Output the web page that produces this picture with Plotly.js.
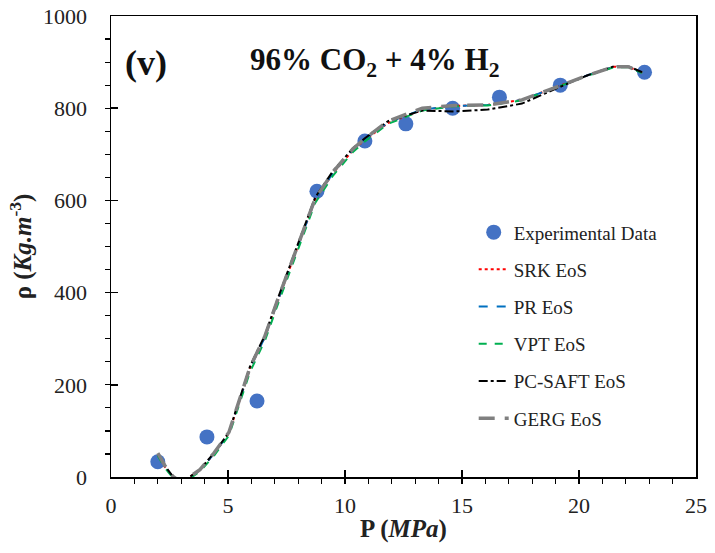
<!DOCTYPE html>
<html><head><meta charset="utf-8">
<script src="https://cdn.plot.ly/plotly-3.0.1.min.js"></script>
<style>body{margin:0;background:#fff}#c{width:715px;height:553px}</style>
</head><body><div id="c"></div>
<script>
// Experimental data
const expP = [2.0, 4.1, 6.24, 8.8, 10.85, 12.6, 14.6, 16.6, 19.2, 22.8];
const expRho = [33, 87, 165, 620, 729, 766, 800, 824, 850, 878];

// Model curves
const curveP = [2.0, 2.3, 2.65, 3.0, 3.38, 3.8, 4.4, 5.04, 5.94, 6.58, 7.09, 7.65, 8.2, 8.72, 9.49, 10.34, 10.85, 11.84, 13.3, 14.7, 16.1, 17.56, 19.27, 20.4, 21.5, 22.1, 22.7];
const srkRho  = [48, 22, 0, -12, 0, 15, 50, 95, 236, 304, 377, 452, 530, 601, 659, 709, 731, 768, 796, 805, 807, 818, 850, 872, 890, 890, 877];
const prRho   = [48, 22, 0, -12, 0, 15, 50, 95, 236, 304, 377, 452, 530, 601, 660, 710, 732, 769, 797, 805, 807, 818, 850, 872, 890, 890, 877];
const vptRho  = [46, 20, -2, -14, -3, 12, 46, 90, 228, 296, 369, 444, 522, 594, 654, 705, 728, 766, 795, 804, 806, 817, 849, 871, 889, 889, 876];
const pcsRho  = [50, 24, 1, -11, 1, 16, 52, 97, 240, 308, 382, 458, 536, 606, 664, 713, 735, 772, 795, 793, 797, 810, 848, 872, 891, 891, 878];
const gergRho = [52, 25, 1, -11, 1, 16, 52, 97, 238, 306, 380, 455, 533, 603, 662, 712, 734, 772, 800, 806, 807, 818, 850, 872, 890, 890, 877];

const xTicks = [0, 5, 10, 15, 20, 25];
const yTicks = [0, 200, 400, 600, 800, 1000];

const serif = "Liberation Serif";

const mk = (name, y, color, dash, width, g) => ({
  x: curveP, y: y, type: 'scatter', mode: 'lines', name: name,
  legendgroup: g, line: {color: color, dash: dash, width: width}
});

const traces = [
  {x: expP, y: expRho, type: 'scatter', mode: 'markers', name: 'Experimental Data', legendgroup: 'a',
   marker: {color: '#4472C4', size: 15}},
  mk('SRK EoS', srkRho, '#FF0000', 'dot', 2, 'b'),
  mk('PR EoS', prRho, '#0070C0', 'dash', 2, 'c'),
  mk('VPT EoS', vptRho, '#00B050', '8px,8px', 2, 'd'),
  mk('PC-SAFT EoS', pcsRho, '#000000', 'dashdot', 2, 'e'),
  mk('GERG EoS', gergRho, '#808080', '16px,10px', 3.5, 'f')
];

const layout = {
  width: 715, height: 553,
  margin: {l: 111, r: 19, t: 16, b: 76},
  paper_bgcolor: '#fff', plot_bgcolor: '#fff',
  font: {family: serif, size: 22, color: '#222'},
  showlegend: true,
  legend: {x: 0.62, y: 0.572, xanchor: 'left', yanchor: 'top',
    traceorder: 'grouped', tracegroupgap: 9.5,
    font: {family: serif, size: 19, color: '#222'}, bgcolor: 'rgba(0,0,0,0)'},
  xaxis: {range: [0, 25], tickvals: xTicks,
    showgrid: false, zeroline: false, showline: true, linecolor: '#000', linewidth: 1.5, mirror: true,
    ticks: 'inside', ticklen: 7, tickwidth: 1.5, tickcolor: '#000',
    minor: {dtick: 1, ticks: 'outside', ticklen: 5, tickwidth: 1.2, tickcolor: '#000', showgrid: false},
    tickfont: {family: serif, size: 22, color: '#222'}, ticklabelstandoff: 8,
    title: {text: '<b>P (<i>MPa</i>)</b>', font: {family: serif, size: 25, color: '#222'}, standoff: 2}},
  yaxis: {range: [0, 1000], tickvals: yTicks,
    showgrid: false, zeroline: false, showline: true, linecolor: '#000', linewidth: 1.5, mirror: true,
    ticks: 'inside', ticklen: 7, tickwidth: 1.5, tickcolor: '#000',
    minor: {dtick: 50, ticks: 'outside', ticklen: 5, tickwidth: 1.2, tickcolor: '#000', showgrid: false},
    tickfont: {family: serif, size: 22, color: '#222'}, ticklabelstandoff: 18,
    title: {text: '<b>ρ (<i>Kg.m</i><sup>-3</sup>)</b>', font: {family: serif, size: 25, color: '#222'}, standoff: 4}},
  annotations: [
    {xref: 'paper', yref: 'paper', x: 0.02, y: 0.898, xanchor: 'left', yanchor: 'middle', showarrow: false,
     text: '<b>(v)</b>', font: {family: serif, size: 36, color: '#111'}},
    {xref: 'paper', yref: 'paper', x: 0.451, y: 0.90, xanchor: 'center', yanchor: 'middle', showarrow: false,
     text: '<b>96% CO<sub>2</sub> + 4% H<sub>2</sub></b>', font: {family: serif, size: 31, color: '#111'}}
  ]
};

Plotly.newPlot('c', traces, layout, {displayModeBar: false, staticPlot: true});
</script>
</body></html>
